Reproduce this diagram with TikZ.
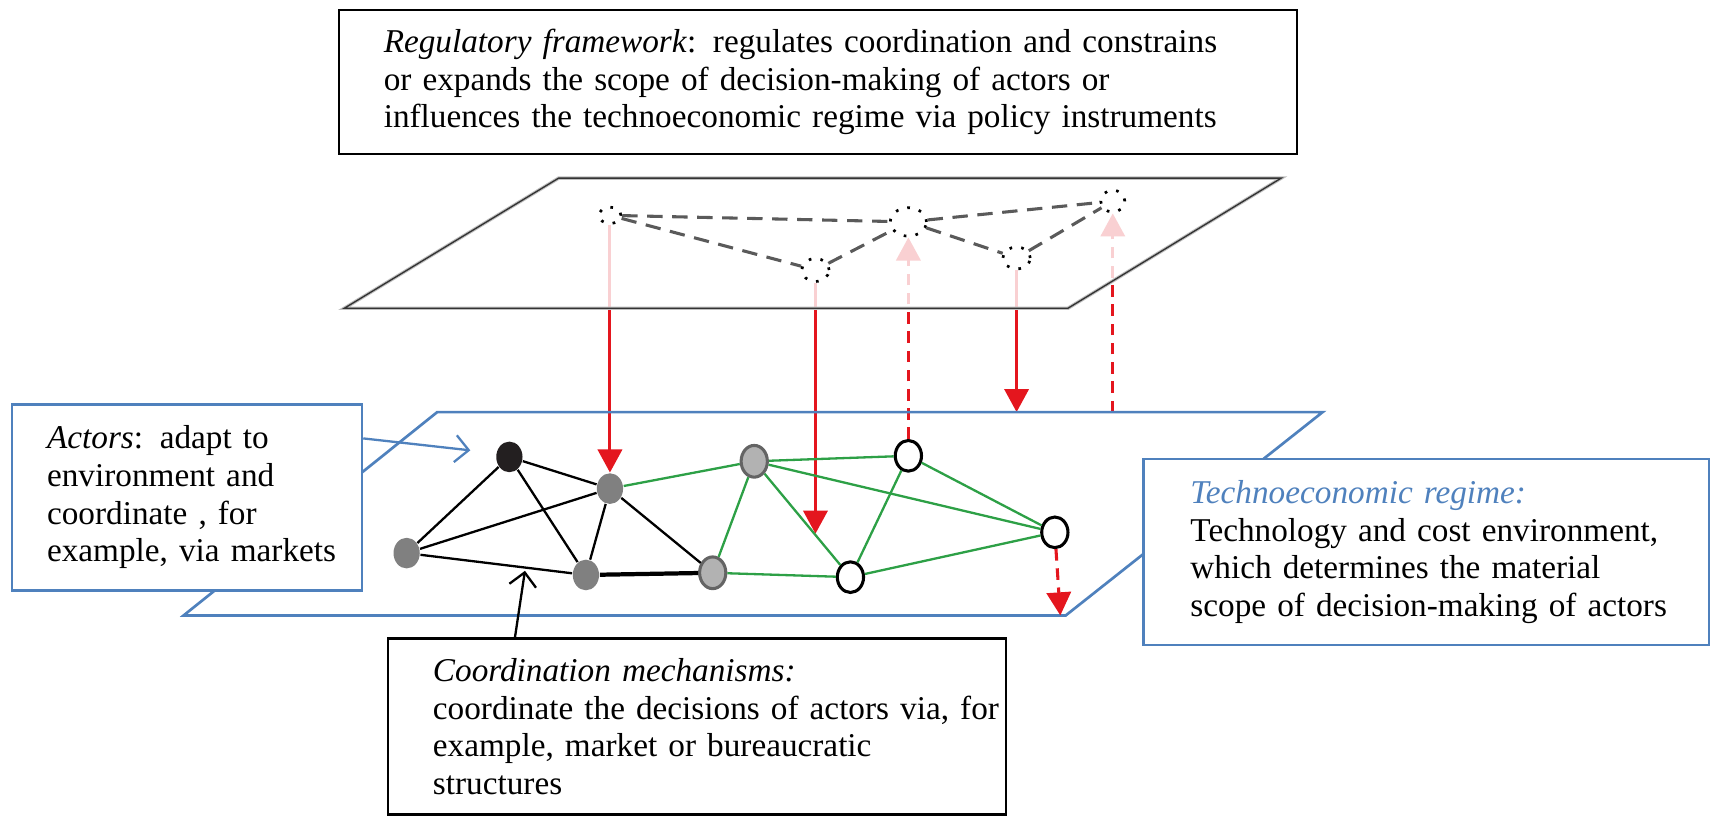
\documentclass[tikz,border=0pt]{standalone}
\usepackage{fontspec}
\setmainfont{Liberation Serif}
\usetikzlibrary{arrows.meta}
\usetikzlibrary{calc}
\usetikzlibrary{positioning}
\usetikzlibrary{shapes.geometric}

\definecolor{boxblue}{RGB}{79,129,189}
\definecolor{arrred}{RGB}{228,22,30}
\definecolor{linkgreen}{RGB}{45,160,70}
\definecolor{nodeblack}{RGB}{35,31,32}
\definecolor{nodegrey}{RGB}{128,128,128}
\definecolor{nodelight}{RGB}{178,178,178}
\definecolor{nodeedge}{RGB}{100,100,100}
\definecolor{reggrey}{RGB}{90,90,90}

\pgfdeclarelayer{arrowlayer}
\pgfdeclarelayer{veil}
\pgfsetlayers{arrowlayer,veil,main}

\begin{document}
\begin{tikzpicture}[
  x=0.01cm, y=-0.01cm,
  > = {Triangle[width=6.3pt,length=6pt]},
  textbox/.style = {draw, fill=white, line width=0.6pt, align=left, anchor=north west,
    inner xsep=0pt, font=\fontsize{8.65}{9.8}\selectfont},
  margin/.style = {execute at begin node={\leftskip=#1}},
  actor/.style = {ellipse, inner sep=0pt, minimum width=0.24cm, minimum height=0.28cm},
  blackactor/.style = {actor, fill=nodeblack},
  greyactor/.style = {actor, fill=nodegrey},
  lightactor/.style = {actor, fill=nodelight, draw=nodeedge, line width=0.8pt, minimum height=0.29cm},
  whiteactor/.style = {actor, fill=white, draw=black, line width=0.8pt},
  regnode/.style = {ellipse, draw=black, inner sep=0pt, line width=0.7pt, dash pattern=on 0.7pt off 2.4pt},
  link/.style = {line width=0.6pt},
  greenlink/.style = {link, draw=linkgreen},
  reglink/.style = {draw=reggrey, line width=0.8pt, dash pattern=on 4pt off 2.5pt},
  impact/.style = {draw=arrred, line width=0.8pt, ->},
  feedback/.style = {impact, dash pattern=on 3pt off 2pt},
  pointer/.style = {line width=0.6pt, -{Straight Barb[length=3.5pt,width=7pt]}}
  ]
  \useasboundingbox (0,0) rectangle (1568,755);

  % top text
  \node[textbox, text width=8.76cm, margin=0.41cm, minimum height=1.32cm] (regbox) at (309,8)
    {\textit{Regulatory framework}: regulates coordination and constrains\\
     or expands the scope of decision-making of actors or\\
     influences the technoeconomic regime via policy instruments};

  % planes
  \coordinate (up1) at (315,282);
  \coordinate (up2) at (511,163);
  \coordinate (up3) at (1172,163);
  \coordinate (up4) at (977,282);

  \coordinate (lp1) at (168,563);
  \coordinate (lp2) at (400,377);
  \coordinate (lp3) at (1210,377);
  \coordinate (lp4) at (975,563);

  \draw[draw=boxblue, line width=0.7pt] (lp1) -- (lp2) -- (lp3) -- (lp4) -- cycle;

  \begin{pgfonlayer}{veil}
    \fill[white, opacity=0.8] (up1) -- (up2) -- (up3) -- (up4) -- cycle;
  \end{pgfonlayer}
  \draw[draw=black!25, line width=0.9pt] (up1) -- (up2) -- (up3) -- (up4) -- cycle;
  \draw[draw=black!80, line width=0.35pt] (up1) -- (up2) -- (up3) -- (up4) -- cycle;

  % actors
  \node[blackactor] (n1) at (466,418) {};
  \node[greyactor] (n2) at (372,506) {};
  \node[greyactor] (n3) at (558,447) {};
  \node[greyactor] (n4) at (536,526) {};
  \node[lightactor] (n5) at (690,422) {};
  \node[lightactor] (n6) at (652,524) {};
  \node[whiteactor] (n7) at (831,417) {};
  \node[whiteactor] (n8) at (778,528) {};
  \node[whiteactor] (n9) at (965,487) {};

  \draw[link] (n1) -- (n2);
  \draw[link] (n1) -- (n3);
  \draw[link] (n1) -- (n4);
  \draw[link] (n2) -- (n3);
  \draw[link] (n2) -- (n4);
  \draw[link] (n3) -- (n4);
  \draw[link] (n3) -- (n6);
  \draw[link, line width=1.1pt] (n4) -- (n6);

  \draw[greenlink] (n3) -- (n5);
  \draw[greenlink] (n5) -- (n6);
  \draw[greenlink] (n5) -- (n7);
  \draw[greenlink] (n5) -- (n8);
  \draw[greenlink] (n5) -- (n9);
  \draw[greenlink] (n6) -- (n8);
  \draw[greenlink] (n7) -- (n8);
  \draw[greenlink] (n7) -- (n9);
  \draw[greenlink] (n8) -- (n9);

  % regulation
  \node[regnode, minimum width=0.20cm, minimum height=0.15cm] (u1) at (558,197) {};
  \node[regnode, minimum width=0.25cm, minimum height=0.21cm] (u2) at (746,247) {};
  \node[regnode, minimum width=0.33cm, minimum height=0.26cm] (u3) at (831,203) {};
  \node[regnode, minimum width=0.25cm, minimum height=0.20cm] (u4) at (930,236) {};
  \node[regnode, minimum width=0.22cm, minimum height=0.20cm] (u5) at (1018,184) {};

  \draw[reglink] (u1) -- (u3);
  \draw[reglink] (u1) -- (u2);
  \draw[reglink] (u2) -- (u3);
  \draw[reglink] (u3) -- (u5);
  \draw[reglink] (u3) -- (u4);
  \draw[reglink] (u4) -- (u5);

  \coordinate (a2tip) at ($(n5)!0.625!(n8)$);
  \coordinate (a6end) at (970,563);

  \begin{pgfonlayer}{arrowlayer}
    \draw[impact] (u1) -- (n3);
    \draw[impact] (u2) -- (u2 |- a2tip);
    \draw[feedback] (n7) -- (u3);
    \draw[impact] (u4) -- (u4 |- lp2);
    \draw[feedback] (u5 |- lp2) -- (u5);
  \end{pgfonlayer}
  \draw[feedback] (n9) -- (a6end);

  % labels
  \node[textbox, draw=boxblue, text width=3.2cm, margin=0.32cm, minimum height=1.70cm] (actors) at (10,369)
    {\textit{Actors}: adapt to\\ environment and\\ coordinate , for\\ example, via markets};
  \node[textbox, draw=boxblue, text width=5.17cm, margin=0.43cm, minimum height=1.70cm] (techno) at (1045,419)
    {\textcolor{boxblue}{\textit{Technoeconomic regime:}}\\ Technology and cost environment,\\
     which determines the material\\ scope of decision-making of actors};
  \node[textbox, text width=5.65cm, margin=0.41cm, minimum height=1.61cm] (mech) at (354,583)
    {\textit{Coordination mechanisms:}\\ coordinate the decisions of actors via, for\\
     example, market or bureaucratic\\ structures};

  \coordinate (mechtip) at ([yshift=-0.03cm]$(n2)!0.66!(n4)$);
  \draw[pointer, draw=boxblue] ([yshift=0.54cm]actors.east) -- ([xshift=-0.23cm,yshift=0.06cm]n1.west);
  \draw[pointer] ([xshift=-1.665cm]mech.north) -- (mechtip);

\end{tikzpicture}
\end{document}
